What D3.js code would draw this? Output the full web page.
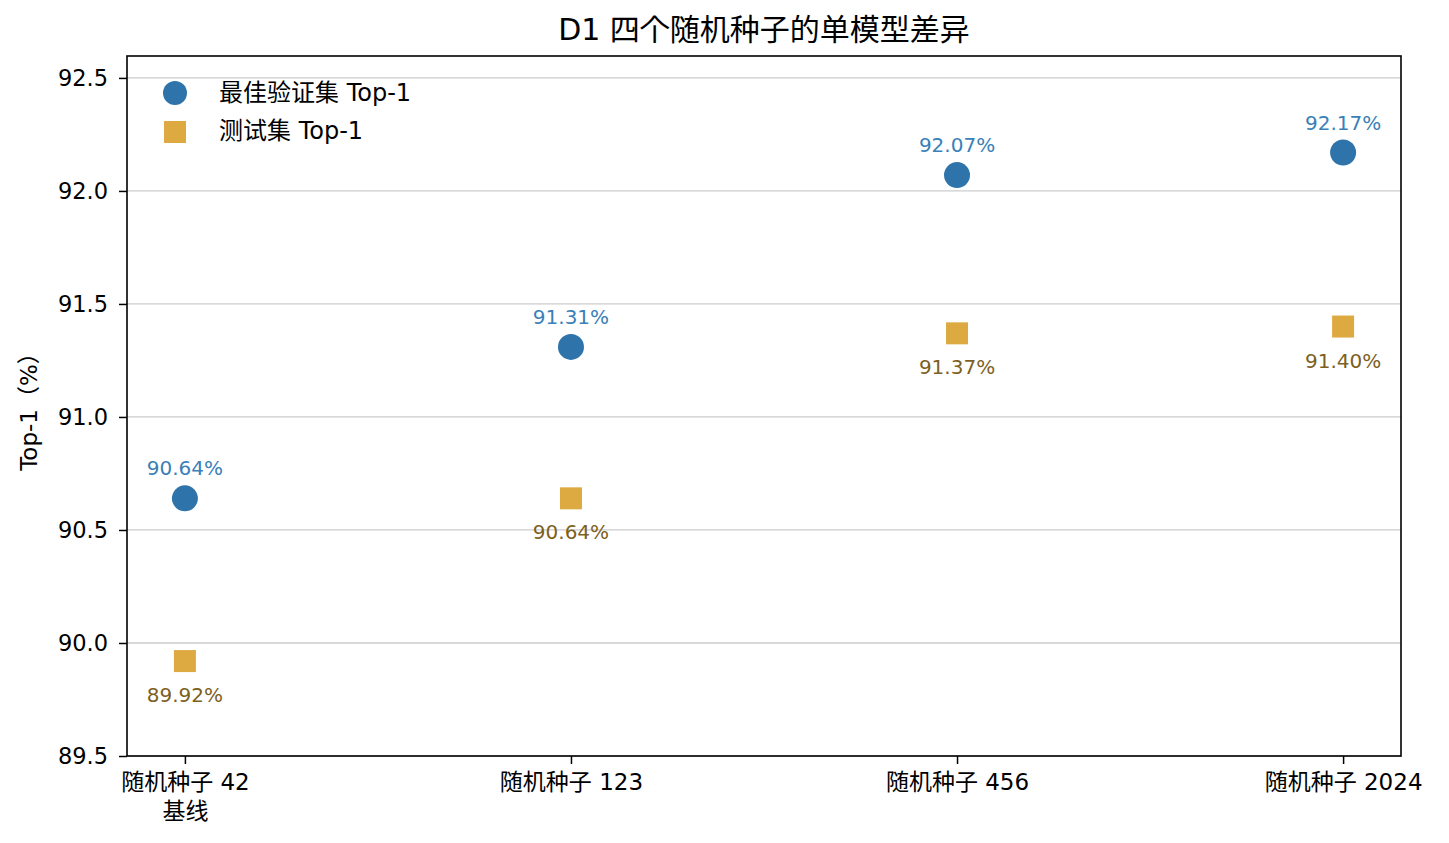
<!DOCTYPE html>
<html><head><meta charset="utf-8">
<script src="https://cdn.jsdelivr.net/npm/d3@7"></script>
<style>
body{margin:0;background:#fff;}
text{font-family:"DejaVu Sans","Noto Sans CJK JP","Noto Sans CJK SC",sans-serif;}
</style></head>
<body><svg id="c" width="1449" height="843"></svg>
<script>
const categories = ["随机种子 42\n基线", "随机种子 123", "随机种子 456", "随机种子 2024"];
const valTop1 = [90.64, 91.31, 92.07, 92.17];
const testTop1 = [89.92, 90.64, 91.37, 91.40];
const yTicks = [89.5, 90.0, 90.5, 91.0, 91.5, 92.0, 92.5];
const seriesNames = ["最佳验证集 Top-1", "测试集 Top-1"];
const title = "D1 四个随机种子的单模型差异";
const yLabel = "Top-1（%）";

const svg = d3.select("#c");
const m = {l:127, r:1401, t:56, b:756};
const x = d3.scaleLinear().domain([-0.15, 3.15]).range([m.l, m.r]);
const y = d3.scaleLinear().domain([89.5, 92.597]).range([m.b, m.t]);
const blue = "#2e74aa", gold = "#dcaa40", blueText = "#3a7fb8", goldText = "#7d5f1e";

// grid
svg.append("g").selectAll("line").data(yTicks).join("line")
  .attr("x1", m.l).attr("x2", m.r).attr("y1", d=>y(d)).attr("y2", d=>y(d))
  .attr("stroke", "#cccccc").attr("stroke-width", 1.3);

// axes
const yAxis = d3.axisLeft(y).tickValues(yTicks).tickFormat(d3.format(".1f")).tickSize(8).tickPadding(11);
const gy = svg.append("g").attr("transform", `translate(${m.l},0)`).call(yAxis);
gy.select(".domain").remove();
gy.selectAll("line").attr("stroke", "#000").attr("stroke-width", 1.5);
gy.selectAll("text").attr("font-size", 22.5).attr("fill", "#000");

const xAxis = d3.axisBottom(x).tickValues(d3.range(categories.length)).tickFormat(()=>"").tickSize(8);
const gx = svg.append("g").attr("transform", `translate(0,${m.b})`).call(xAxis);
gx.select(".domain").remove();
gx.selectAll("line").attr("stroke", "#000").attr("stroke-width", 1.5);
gx.selectAll(".tick").each(function(d){
  const lines = categories[d].split("\n");
  const g = d3.select(this);
  lines.forEach((s,i)=>g.append("text").attr("fill","#000").attr("font-size",23)
    .attr("text-anchor","middle").attr("x",0).attr("y", 34 + i*29).text(s));
});

// frame
svg.append("rect").attr("x", m.l).attr("y", m.t).attr("width", m.r-m.l).attr("height", m.b-m.t)
  .attr("fill","none").attr("stroke","#000").attr("stroke-width",1.6);

// points
svg.append("g").selectAll("circle").data(valTop1).join("circle")
  .attr("cx",(d,i)=>x(i)).attr("cy",d=>y(d)).attr("r",13).attr("fill",blue);
svg.append("g").selectAll("rect").data(testTop1).join("rect")
  .attr("x",(d,i)=>x(i)-11).attr("y",d=>y(d)-11).attr("width",22).attr("height",22).attr("fill",gold);

// annotations
svg.append("g").selectAll("text").data(valTop1).join("text")
  .attr("x",(d,i)=>x(i)).attr("y",d=>y(d)-23).attr("text-anchor","middle")
  .attr("font-size",20).attr("fill",blueText).text(d=>d.toFixed(2)+"%");
svg.append("g").selectAll("text").data(testTop1).join("text")
  .attr("x",(d,i)=>x(i)).attr("y",d=>y(d)+41).attr("text-anchor","middle")
  .attr("font-size",20).attr("fill",goldText).text(d=>d.toFixed(2)+"%");

// legend
const lg = svg.append("g");
lg.append("circle").attr("cx",175).attr("cy",93).attr("r",12).attr("fill",blue);
lg.append("rect").attr("x",164).attr("y",121).attr("width",22).attr("height",22).attr("fill",gold);
lg.append("text").attr("x",219).attr("y",101).attr("font-size",24).attr("fill","#000").text(seriesNames[0]);
lg.append("text").attr("x",219).attr("y",139).attr("font-size",24).attr("fill","#000").text(seriesNames[1]);

// title
svg.append("text").attr("x",(m.l+m.r)/2).attr("y",40).attr("text-anchor","middle")
  .attr("font-size",30).attr("fill","#000").text(title);

// y label
svg.append("text").attr("transform",`translate(37,${(m.t+m.b)/2}) rotate(-90)`)
  .attr("text-anchor","middle").attr("font-size",23).attr("fill","#000").text(yLabel);
</script></body></html>
